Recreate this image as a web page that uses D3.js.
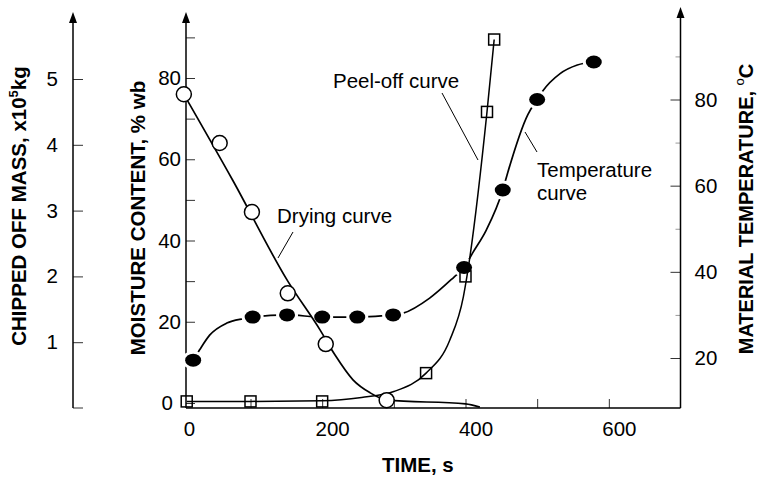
<!DOCTYPE html>
<html lang="en">
<head>
<meta charset="utf-8">
<title>Drying, temperature and peel-off curves</title>
<script src="https://d3js.org/d3.v7.min.js"></script>
<style>
  body { margin: 0; background: #fff; }
  svg { font-family: "Liberation Sans", Arial, Helvetica, sans-serif; }
</style>
</head>
<body>
<div id="chart"></div>
<script>
// values
// drying curve (open circles), moisture % wb
var dryTime = [7, 57, 102, 152, 205, 290];
var dryMoisture = [76, 64, 47, 27, 14.5, 0.7];
var dryCurveTime = [7, 75, 152, 197, 218, 243, 267, 291, 400, 420];
var dryCurveMoisture = [76, 54.9, 30, 18, 11.8, 5.7, 2.5, 0.7, -0.2, -1];

// peel-off curve (squares), chipped off mass x10^5 kg
var peelTime = [11, 100, 200, 345, 400, 430, 440];
var peelMass = [0.1, 0.1, 0.1, 0.53, 2.0, 4.5, 5.6];
var peelCurveTime = [11, 100, 200, 255, 300, 345, 378, 397, 402, 430, 440];
var peelCurveMass = [0.1, 0.1, 0.11, 0.16, 0.25, 0.53, 1.03, 1.69, 2.0, 4.5, 5.6];

// temperature curve (filled circles), deg C
var tempTime = [20, 103, 151, 200, 249, 299, 398, 452, 500, 579];
var tempValue = [19.5, 29.5, 30, 29.5, 29.5, 30, 41, 59, 80, 88.7];
var tempCurveTime = [20, 29, 43, 67, 89, 103, 151, 200, 249, 299, 313, 350, 384, 398, 410, 429, 452, 458, 487, 500, 507, 532, 556, 579];
var tempCurveValue = [19.5, 21.9, 25.3, 28.1, 29.1, 29.5, 30, 29.5, 29.5, 30, 30.4, 33.9, 38.8, 41, 44.4, 49.7, 59, 62.5, 76.5, 80, 81.8, 86, 88, 88.7];

// ticks
var timeTicks = [100, 200, 300, 400, 500, 600];
var timeLabels = [0, 200, 400, 600];
var moistTicks = [0, 20, 40, 60, 80];
var moistMinor = [10, 30, 50, 70, 90];
var tempTicks = [20, 40, 60, 80];
var tempMinor = [30, 50, 70, 90];
var massTicks = [1, 2, 3, 4, 5];

var svg = d3.select("#chart").append("svg")
  .attr("width", 758)
  .attr("height", 479);

var x = d3.scaleLinear().domain([10, 700]).range([186, 680.5]);
var yMoist = d3.scaleLinear().domain([0, 80]).range([403, 78]);
var yTemp = d3.scaleLinear().domain([20, 80]).range([358, 99.5]);
var yMass = d3.scaleLinear().domain([0, 5]).range([408, 79]);

var baseY = 408;
var massX = 73;
var leftX = x.range()[0];
var rightX = x.range()[1];

function styleAxis(g) {
  g.select(".domain").remove();
  g.selectAll(".tick line").attr("stroke", "#333").attr("stroke-width", 1);
  g.selectAll("text").attr("font-size", "20.5px").attr("fill", "#000")
    .attr("font-family", "Liberation Sans, Arial, sans-serif");
}

function arrowAxis(xx, top) {
  svg.append("line")
    .attr("x1", xx).attr("x2", xx)
    .attr("y1", baseY).attr("y2", top + 6)
    .attr("stroke", "#000").attr("stroke-width", 1.5);
  svg.append("path")
    .attr("d", "M" + xx + "," + top + "L" + (xx - 4) + "," + (top + 11) + "L" + (xx + 4) + "," + (top + 11) + "Z")
    .attr("fill", "#000");
}

// bottom time axis
svg.append("g")
  .attr("transform", "translate(0," + baseY + ")")
  .call(d3.axisBottom(x).tickValues(timeTicks).tickSizeInner(-9).tickSizeOuter(0).tickFormat(""))
  .call(styleAxis);
svg.append("g")
  .attr("transform", "translate(0," + baseY + ")")
  .call(d3.axisBottom(x).tickValues(timeLabels).tickSize(0).tickPadding(13))
  .call(styleAxis)
  .selectAll("text").attr("dx", 10);
svg.append("line")
  .attr("x1", leftX).attr("x2", rightX)
  .attr("y1", baseY).attr("y2", baseY)
  .attr("stroke", "#000").attr("stroke-width", 1.5);

// moisture axis
svg.append("g")
  .attr("transform", "translate(" + leftX + ",0)")
  .call(d3.axisLeft(yMoist).tickValues(moistMinor).tickSizeInner(-9).tickSizeOuter(0).tickFormat(""))
  .call(styleAxis);
svg.append("g")
  .attr("transform", "translate(" + leftX + ",0)")
  .call(d3.axisLeft(yMoist).tickValues(moistTicks).tickSizeInner(-9).tickSizeOuter(0).tickPadding(5))
  .call(styleAxis)
  .selectAll("text").attr("dx", function(d) { return d === 0 ? -8 : 0; });
arrowAxis(leftX, 12);

// chipped off mass axis
svg.append("g")
  .attr("transform", "translate(" + massX + ",0)")
  .call(d3.axisLeft(yMass).tickValues(massTicks).tickFormat(d3.format("d"))
    .tickSizeInner(-10).tickSizeOuter(0).tickPadding(15))
  .call(styleAxis);
svg.append("line")
  .attr("x1", massX).attr("x2", massX + 10)
  .attr("y1", baseY).attr("y2", baseY)
  .attr("stroke", "#333");
arrowAxis(massX, 12);

// temperature axis
svg.append("g")
  .attr("transform", "translate(" + rightX + ",0)")
  .call(d3.axisRight(yTemp).tickValues(tempMinor).tickSizeInner(-5).tickSizeOuter(0).tickFormat(""))
  .call(styleAxis)
  .selectAll(".tick line").attr("stroke", "#999");
svg.append("g")
  .attr("transform", "translate(" + rightX + ",0)")
  .call(d3.axisRight(yTemp).tickValues(tempTicks).tickSizeInner(-10).tickSizeOuter(0).tickPadding(14))
  .call(styleAxis);
arrowAxis(rightX, 7);

// axis titles
svg.append("text")
  .attr("x", x(0) + 239).attr("y", 472)
  .attr("text-anchor", "middle")
  .attr("font-size", "20.5px").attr("font-weight", "bold")
  .text("TIME, s");

svg.append("text")
  .attr("transform", "translate(145,218) rotate(-90)")
  .attr("text-anchor", "middle")
  .attr("font-size", "20.5px").attr("font-weight", "bold")
  .text("MOISTURE CONTENT, % wb");

var massTitle = svg.append("text")
  .attr("transform", "translate(26,206) rotate(-90)")
  .attr("text-anchor", "middle")
  .attr("font-size", "20.5px").attr("font-weight", "bold");
massTitle.append("tspan").text("CHIPPED OFF MASS, x10");
massTitle.append("tspan").attr("font-size", "13px").attr("dy", -8).text("5");
massTitle.append("tspan").attr("dy", 8).text("kg");

var tempTitle = svg.append("text")
  .attr("transform", "translate(753,209) rotate(-90)")
  .attr("text-anchor", "middle")
  .attr("font-size", "20px").attr("font-weight", "bold");
tempTitle.append("tspan").text("MATERIAL TEMPERATURE, ");
tempTitle.append("tspan").attr("font-size", "13px").attr("dy", -9).attr("font-weight", "normal").text("o");
tempTitle.append("tspan").attr("dy", 9).text("C");

// curves
var dryLine = d3.line()
  .x(function(d) { return x(d[0]); })
  .y(function(d) { return yMoist(d[1]); })
  .curve(d3.curveMonotoneX);
var peelLine = d3.line()
  .x(function(d) { return x(d[0]); })
  .y(function(d) { return yMass(d[1]); })
  .curve(d3.curveMonotoneX);
var tempLine = d3.line()
  .x(function(d) { return x(d[0]); })
  .y(function(d) { return yTemp(d[1]); })
  .curve(d3.curveMonotoneX);

svg.append("path")
  .datum(d3.zip(tempCurveTime, tempCurveValue))
  .attr("d", tempLine)
  .attr("fill", "none").attr("stroke", "#000").attr("stroke-width", 1.7);

var tempPts = d3.zip(tempTime, tempValue);
// white halo so the line breaks around each dot
svg.selectAll(".halo").data(tempPts).enter().append("ellipse")
  .attr("class", "halo")
  .attr("cx", function(d) { return x(d[0]); })
  .attr("cy", function(d) { return yTemp(d[1]); })
  .attr("rx", 11).attr("ry", 9.5)
  .attr("fill", "#fff");

svg.append("path")
  .datum(d3.zip(dryCurveTime, dryCurveMoisture))
  .attr("d", dryLine)
  .attr("fill", "none").attr("stroke", "#000").attr("stroke-width", 1.7);

svg.append("path")
  .datum(d3.zip(peelCurveTime, peelCurveMass))
  .attr("d", peelLine)
  .attr("fill", "none").attr("stroke", "#000").attr("stroke-width", 1.5);

// markers
svg.selectAll(".dry").data(d3.zip(dryTime, dryMoisture)).enter().append("circle")
  .attr("class", "dry")
  .attr("cx", function(d) { return x(d[0]); })
  .attr("cy", function(d) { return yMoist(d[1]); })
  .attr("r", 7.5)
  .attr("fill", "#fff").attr("stroke", "#000").attr("stroke-width", 1.5);

svg.selectAll(".peel").data(d3.zip(peelTime, peelMass)).enter().append("rect")
  .attr("class", "peel")
  .attr("x", function(d) { return x(d[0]) - 5.5; })
  .attr("y", function(d) { return yMass(d[1]) - 5.5; })
  .attr("width", 11).attr("height", 11)
  .attr("fill", "none").attr("stroke", "#000").attr("stroke-width", 1.5);

svg.selectAll(".temp").data(tempPts).enter().append("ellipse")
  .attr("class", "temp")
  .attr("cx", function(d) { return x(d[0]); })
  .attr("cy", function(d) { return yTemp(d[1]); })
  .attr("rx", 8).attr("ry", 6.5)
  .attr("fill", "#000");

// annotations
function note(txt, tx, ty) {
  svg.append("text").attr("x", tx).attr("y", ty)
    .attr("font-size", "20.5px").text(txt);
}
function leader(x1, y1, x2, y2) {
  svg.append("line")
    .attr("x1", x1).attr("y1", y1).attr("x2", x2).attr("y2", y2)
    .attr("stroke", "#000").attr("stroke-width", 1);
}
note("Drying curve", 277, 223);
leader(293, 232, 278, 258);
note("Peel-off curve", 333, 88);
leader(442, 93, 478, 160);
note("Temperature", 537, 177);
note("curve", 537, 200);
leader(525, 132, 537, 152);
</script>
</body>
</html>
